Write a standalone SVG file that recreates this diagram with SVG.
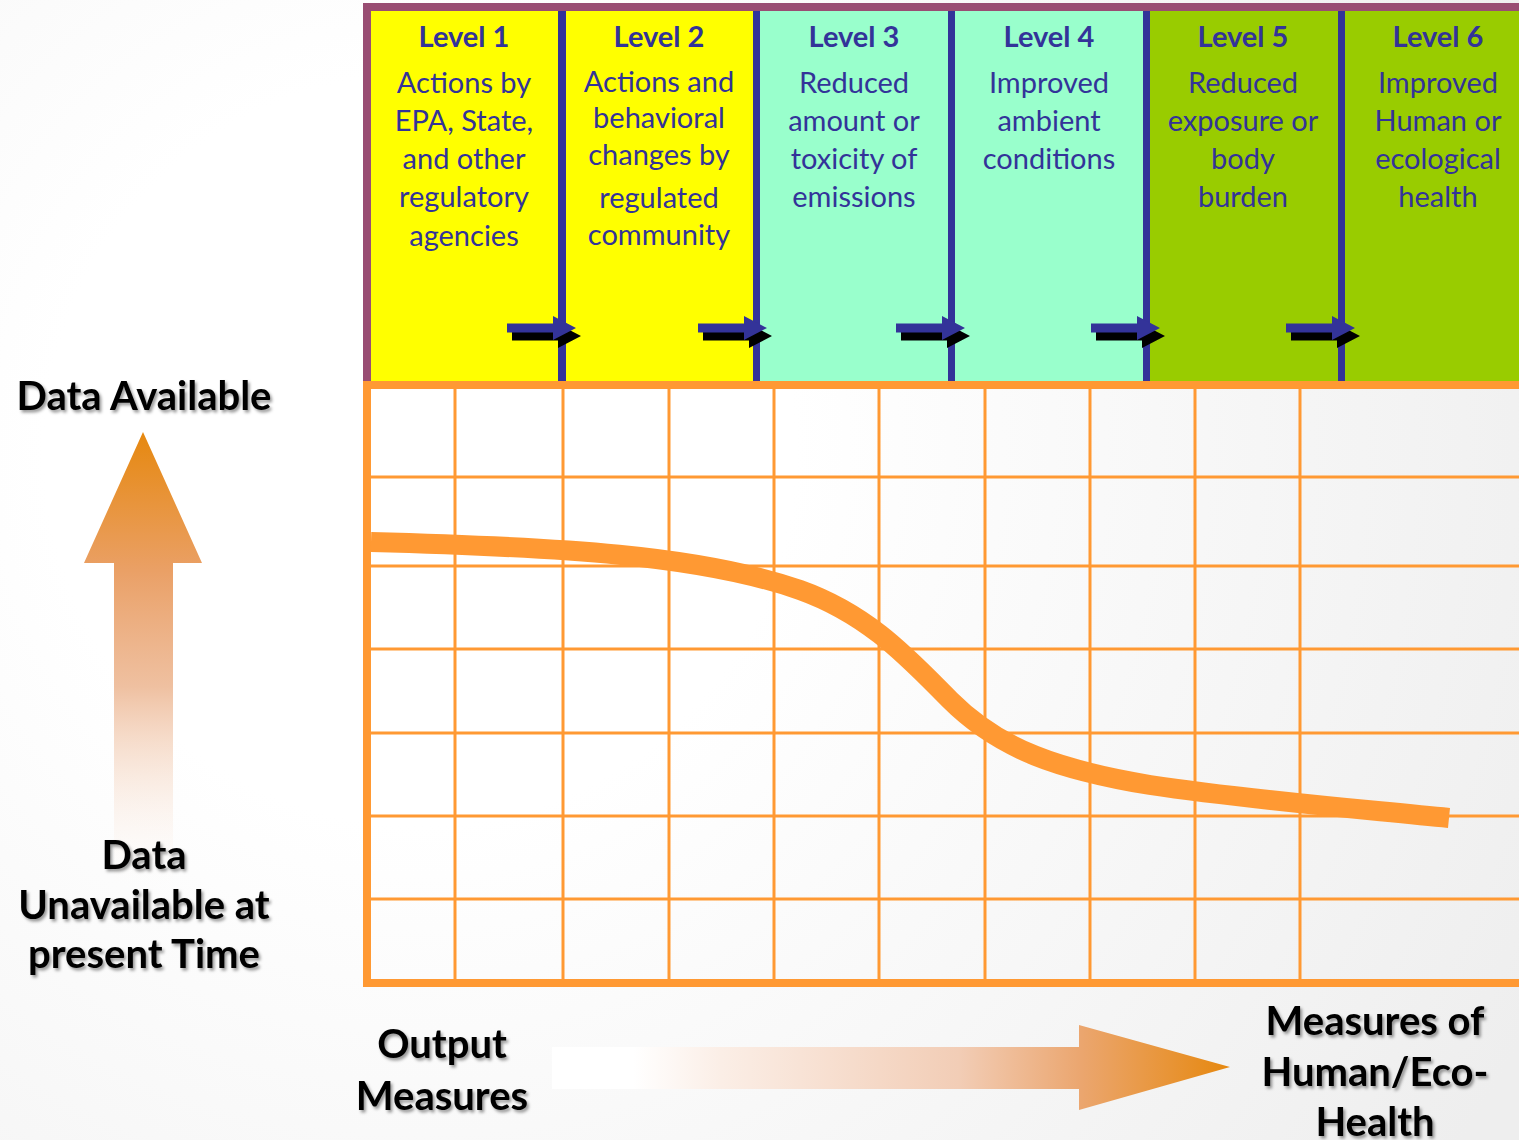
<svg xmlns="http://www.w3.org/2000/svg" width="1519" height="1140" viewBox="0 0 1519 1140">
<defs>
<radialGradient id="bg" gradientUnits="userSpaceOnUse" cx="420" cy="450" r="1250">
<stop offset="0" stop-color="#FFFFFF"/>
<stop offset="0.3" stop-color="#FFFFFF"/>
<stop offset="1" stop-color="#EEEEEE"/>
</radialGradient>
<linearGradient id="upg" gradientUnits="userSpaceOnUse" x1="0" y1="432" x2="0" y2="895">
<stop offset="0" stop-color="#E6880F"/>
<stop offset="0.3" stop-color="#EAA066"/>
<stop offset="0.55" stop-color="#EDB996" stop-opacity="0.9"/>
<stop offset="1" stop-color="#FFFFFF" stop-opacity="0"/>
</linearGradient>
<linearGradient id="rg" gradientUnits="userSpaceOnUse" x1="552" y1="0" x2="1230" y2="0">
<stop offset="0" stop-color="#FFFFFF"/>
<stop offset="0.12" stop-color="#FFFFFF"/>
<stop offset="0.25" stop-color="#FBEEE6"/>
<stop offset="0.6" stop-color="#F2CDB6"/>
<stop offset="0.78" stop-color="#EBA66F"/>
<stop offset="1" stop-color="#E6880F"/>
</linearGradient>
<filter id="sh" x="-10%" y="-20%" width="120%" height="150%">
<feDropShadow dx="2" dy="2.5" stdDeviation="1.5" flood-color="#000000" flood-opacity="0.4"/>
</filter>
<path id="arr" d="M0,-4.5 H46 V-12 L69,0 L46,12 V4.5 H0 Z"/>
</defs>
<style>
.lvl{font-family:Lato,"Liberation Sans",sans-serif;font-weight:bold;font-size:29px;fill:#333399;text-anchor:middle}
.bd{font-family:Lato,"Liberation Sans",sans-serif;font-size:29px;fill:#333399;text-anchor:middle}
.big{font-family:Lato,"Liberation Sans",sans-serif;font-weight:bold;font-size:40px;fill:#000000;text-anchor:middle;filter:url(#sh)}
.div{fill:#333399}
.grid{stroke:#FF9933;stroke-width:3;fill:none}
.bord{fill:#FF9933}
.ab{fill:#333399}
.as{fill:#000000}
</style>
<rect x="0" y="0" width="1519" height="1140" fill="url(#bg)"/>

<g id="header-frame">
<rect x="363" y="3" width="1156" height="8" fill="#994D73"/>
<rect x="363" y="3" width="8" height="378" fill="#994D73"/>
</g>

<g id="level1">
<rect x="371" y="11" width="187" height="370" fill="#FFFF00"/>
<text class="lvl" x="464" y="47">Level 1</text>
<text class="bd" x="464" y="93">Actions by</text>
<text class="bd" x="464" y="131">EPA, State,</text>
<text class="bd" x="464" y="169">and other</text>
<text class="bd" x="464" y="207">regulatory</text>
<text class="bd" x="464" y="246">agencies</text>
</g>
<g id="level2">
<rect x="566" y="11" width="187" height="370" fill="#FFFF00"/>
<text class="lvl" x="659" y="47">Level 2</text>
<text class="bd" x="659" y="92">Actions and</text>
<text class="bd" x="659" y="128">behavioral</text>
<text class="bd" x="659" y="165">changes by</text>
<text class="bd" x="659" y="208">regulated</text>
<text class="bd" x="659" y="245">community</text>
</g>
<g id="level3">
<rect x="760" y="11" width="188" height="370" fill="#99FFCC"/>
<text class="lvl" x="854" y="47">Level 3</text>
<text class="bd" x="854" y="93">Reduced</text>
<text class="bd" x="854" y="131">amount or</text>
<text class="bd" x="854" y="169">toxicity of</text>
<text class="bd" x="854" y="207">emissions</text>
</g>
<g id="level4">
<rect x="955" y="11" width="188" height="370" fill="#99FFCC"/>
<text class="lvl" x="1049" y="47">Level 4</text>
<text class="bd" x="1049" y="93">Improved</text>
<text class="bd" x="1049" y="131">ambient</text>
<text class="bd" x="1049" y="169">conditions</text>
</g>
<g id="level5">
<rect x="1150" y="11" width="188" height="370" fill="#99CC00"/>
<text class="lvl" x="1243" y="47">Level 5</text>
<text class="bd" x="1243" y="93">Reduced</text>
<text class="bd" x="1243" y="131">exposure or</text>
<text class="bd" x="1243" y="169">body</text>
<text class="bd" x="1243" y="207">burden</text>
</g>
<g id="level6">
<rect x="1345" y="11" width="174" height="370" fill="#99CC00"/>
<text class="lvl" x="1438" y="47">Level 6</text>
<text class="bd" x="1438" y="93">Improved</text>
<text class="bd" x="1438" y="131">Human or</text>
<text class="bd" x="1438" y="169">ecological</text>
<text class="bd" x="1438" y="207">health</text>
</g>

<g id="dividers">
<rect class="div" x="558" y="11" width="8" height="370"/>
<rect class="div" x="753" y="11" width="7" height="370"/>
<rect class="div" x="948" y="11" width="7" height="370"/>
<rect class="div" x="1143" y="11" width="7" height="370"/>
<rect class="div" x="1338" y="11" width="7" height="370"/>
</g>

<g id="connectors">
<use href="#arr" class="as" x="512" y="336"/>
<use href="#arr" class="ab" x="507" y="328"/>
<use href="#arr" class="as" x="703" y="336"/>
<use href="#arr" class="ab" x="698" y="328"/>
<use href="#arr" class="as" x="901" y="336"/>
<use href="#arr" class="ab" x="896" y="328"/>
<use href="#arr" class="as" x="1096" y="336"/>
<use href="#arr" class="ab" x="1091" y="328"/>
<use href="#arr" class="as" x="1291" y="336"/>
<use href="#arr" class="ab" x="1286" y="328"/>
</g>

<g id="chart">
<g class="grid">
<line x1="455" y1="389" x2="455" y2="979"/>
<line x1="563" y1="389" x2="563" y2="979"/>
<line x1="669" y1="389" x2="669" y2="979"/>
<line x1="774" y1="389" x2="774" y2="979"/>
<line x1="879" y1="389" x2="879" y2="979"/>
<line x1="985" y1="389" x2="985" y2="979"/>
<line x1="1090" y1="389" x2="1090" y2="979"/>
<line x1="1195" y1="389" x2="1195" y2="979"/>
<line x1="1300" y1="389" x2="1300" y2="979"/>
<line x1="371" y1="477" x2="1519" y2="477"/>
<line x1="371" y1="566" x2="1519" y2="566"/>
<line x1="371" y1="649" x2="1519" y2="649"/>
<line x1="371" y1="733" x2="1519" y2="733"/>
<line x1="371" y1="816" x2="1519" y2="816"/>
<line x1="371" y1="899" x2="1519" y2="899"/>
</g>
<rect class="bord" x="363" y="381" width="1156" height="8"/>
<rect class="bord" x="363" y="381" width="8" height="606"/>
<rect class="bord" x="363" y="979" width="1156" height="8"/>
<path d="M371,542 C560,547 700,555 800,590 C870,615 910,660 950,700 C1000,750 1060,770 1150,785 C1250,800 1350,808 1449,818" fill="none" stroke="#FF9933" stroke-width="20"/>
</g>

<g id="up-arrow">
<path d="M143,432 L202,563 H173 V895 H114 V563 H84 Z" fill="url(#upg)"/>
</g>
<g id="right-arrow">
<path d="M552,1047 H1079 V1025 L1230,1067 L1079,1110 V1089 H552 Z" fill="url(#rg)"/>
</g>

<g id="label-available">
<text class="big" x="144" y="410">Data Available</text>
</g>
<g id="label-unavailable">
<text class="big" x="144" y="869">Data</text>
<text class="big" x="144" y="919">Unavailable at</text>
<text class="big" x="144" y="968">present Time</text>
</g>
<g id="label-output">
<text class="big" x="442" y="1058">Output</text>
<text class="big" x="442" y="1110">Measures</text>
</g>
<g id="label-health">
<text class="big" x="1375" y="1035">Measures of</text>
<text class="big" x="1375" y="1086">Human/Eco-</text>
<text class="big" x="1375" y="1136">Health</text>
</g>
</svg>
